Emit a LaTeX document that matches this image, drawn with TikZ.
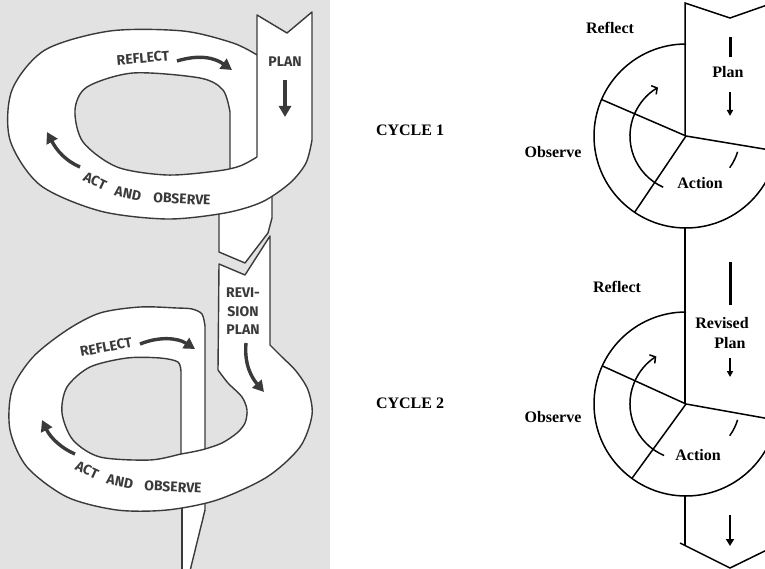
\documentclass[tikz,border=0pt]{standalone}
\usepackage{fontspec}
\setmainfont{Liberation Serif}
\newfontfamily\scanfont{Fira Sans}
\usetikzlibrary{arrows.meta}
\definecolor{scanbg}{RGB}{226,226,226}
\definecolor{ink}{RGB}{58,58,58}
\begin{document}
\begin{tikzpicture}[x=1pt,y=-1pt,
  band/.style={draw=ink, line width=1.4pt, line join=round},
  scanlbl/.style={font=\scanfont\bfseries\fontsize{14}{14}\selectfont, text=ink, inner sep=0pt},
  bigarrow/.style={draw=ink, line width=3.4pt, -{Triangle[length=11pt,width=12pt]}},
  lbl/.style={font=\bfseries\fontsize{16}{16}\selectfont, inner sep=0pt},
  cyc/.style={draw=black, line width=1.5pt},
]
\useasboundingbox (0,0) rectangle (765,569);
\clip (0,0) rectangle (765,569);
\fill[scanbg] (0,0) rectangle (330,569);

% ---------- left: ring 1 tail ----------
\fill[white] (219,195) -- (219,252) -- (245,263) -- (268,233) -- (272,218) -- (272,195) -- cycle;
\draw[band] (219,195) -- (219,252) -- (245,263) -- (268,233) -- (272,218) -- (272,195);

% ---------- left: ring 2 tail ----------
\fill[white] (182,490) -- (182,575) -- (189,575) -- (205,510) -- (205,490) -- cycle;
\draw[band] (182,490) -- (182,575);
\draw[band] (205,490) -- (205,510) -- (189,575);

% ---------- left: ring 1 ----------
\fill[white, even odd rule] (257,55) -- (257,15) -- (287,33) -- (312,12) -- (312,140)
  -- plot[smooth] coordinates {(312,140) (306,163) (290,183) (262,202) (225,213) (167,219) (100,211) (40,185) (10,140) (12,90) (45,50) (110,31) (183,31) (233,43) (257,55)} -- cycle
  (230,168) -- plot[smooth] coordinates {(230,168) (217,171) (167,175) (117,167) (83,142) (75,110) (87,87) (133,73) (200,78) (223,90) (230,112)} -- cycle;
\draw[band] (257,157) -- (257,15) -- (287,33) -- (312,12) -- (312,140)
  -- plot[smooth] coordinates {(312,140) (306,163) (290,183) (262,202) (225,213) (167,219) (100,211) (40,185) (10,140) (12,90) (45,50) (110,31) (183,31) (233,43) (257,55)};
\draw[band] plot[smooth] coordinates {(257,157) (240,166) (217,171) (167,175) (117,167) (83,142) (75,110) (87,87) (133,73) (200,78) (223,90) (230,112)} -- (230,168);

% ---------- left: ring 2 ----------
\fill[white, even odd rule] (205,449) -- (205,326)
  -- plot[smooth] coordinates {(205,326) (202,314) (192,309) (177,308) (140,307) (100,313) (67,330) (33,357) (12,390) (10,430) (27,467) (67,497) (117,510) (167,510) (217,500) (267,477) (300,447) (312,415) (308,390) (296,371) (282,357) (270,345)}
  -- (270,236) -- (245,275) -- (219,264) -- (218,370)
  -- plot[smooth] coordinates {(218,370) (228,383) (242,397) (247,410) (245,423) (237,433) (222,443) (205,449)} -- cycle
  (181,454) -- (181,372) -- plot[smooth] coordinates {(181,372) (178,362) (160,358) (127,358) (90,367) (67,387) (62,413) (73,440) (100,457) (150,460) (181,454)} -- cycle;
\draw[band] (205,449) -- (205,326)
  -- plot[smooth] coordinates {(205,326) (202,314) (192,309) (177,308) (140,307) (100,313) (67,330) (33,357) (12,390) (10,430) (27,467) (67,497) (117,510) (167,510) (217,500) (267,477) (300,447) (312,415) (308,390) (296,371) (282,357) (270,345)}
  -- (270,236) -- (245,275) -- (219,264) -- (218,370);
\draw[band] plot[smooth] coordinates {(218,370) (228,383) (242,397) (247,410) (245,423) (237,433) (222,443) (205,449) (192,452) (181,454) (150,460) (100,457) (73,440) (62,413) (67,387) (90,367) (127,358) (160,358) (178,362) (181,372)} -- (181,454);

% ---------- left: arrows ----------
\coordinate (a1s) at (177,61); \coordinate (a1e) at (232,70);
\coordinate (a2s) at (285,80); \coordinate (a2e) at (285,117);
\coordinate (a3s) at (80,167); \coordinate (a3e) at (47,132);
\coordinate (b1s) at (140,344); \coordinate (b1e) at (195,349);
\coordinate (b2s) at (246,343); \coordinate (b2e) at (264,392);
\coordinate (b3s) at (75,454); \coordinate (b3e) at (42,420);
\draw[bigarrow] (a1s) .. controls (200,54) and (215,58) .. (a1e);
\draw[bigarrow] (a2s) -- (a2e);
\draw[bigarrow] (a3s) .. controls (66,161) and (57,151) .. (a3e);
\draw[bigarrow] (b1s) .. controls (160,336) and (178,338) .. (b1e);
\draw[bigarrow] (b2s) .. controls (244,365) and (252,378) .. (b2e);
\draw[bigarrow] (b3s) .. controls (63,449) and (51,439) .. (b3e);

% ---------- left: labels ----------
\node[scanlbl, rotate=5] (r1reflect) at (143,58) {REFLECT};
\node[scanlbl] (r1plan) at (285,62) {PLAN};
\node[scanlbl, rotate=-25] (r1act) at (95,181) {ACT};
\node[scanlbl, rotate=-12] (r1and) at (128,194) {AND};
\node[scanlbl, rotate=-3] (r1obs) at (182,199) {OBSERVE};
\node[scanlbl, rotate=11] (r2reflect) at (106,347) {REFLECT};
\node[scanlbl] (r2revi) at (243,293) {REVI-};
\node[scanlbl] (r2sion) at (243,312) {SION};
\node[scanlbl] (r2plan) at (243,330) {PLAN};
\node[scanlbl, rotate=-25] (r2act) at (87,470) {ACT};
\node[scanlbl, rotate=-12] (r2and) at (120,482) {AND};
\node[scanlbl, rotate=-3] (r2obs) at (173,487) {OBSERVE};

% ---------- middle ----------
\node[lbl] (cyc1) at (410,130) {CYCLE 1};
\node[lbl] (cyc2) at (410,403) {CYCLE 2};

% ---------- right diagram ----------
\coordinate (c1) at (686,136);
\coordinate (c2) at (686,404);
\draw[cyc] (770,4) -- (730,18) -- (685,3) -- (685,136);
\draw[cyc] (685,228) -- (685,404);
\draw[cyc] (685,496) -- (685,545);
\draw[cyc] (680,543) -- (730,568) -- (775,546);
% cycle 1
\draw[cyc] (686,44) arc[start angle=270, end angle=5, radius=92];
\draw[cyc] (c1) -- (601.5,99.5);
\draw[cyc] (c1) -- (634.6,212.3);
\draw[cyc] (c1) -- (770,150);
\draw[cyc, -{Straight Barb[length=4pt,width=10pt]}] (663.2,187.2) arc[start angle=114, end angle=240, radius=56];
\draw[cyc] (737.6,151.8) arc[start angle=17, end angle=36, radius=54];
% cycle 2
\draw[cyc] (686,312) arc[start angle=270, end angle=5, radius=92];
\draw[cyc] (c2) -- (602.3,365.9);
\draw[cyc] (c2) -- (631.9,478.4);
\draw[cyc] (c2) -- (770,419);
\draw[cyc, -{Straight Barb[length=4pt,width=10pt]}] (664.1,455.5) arc[start angle=113, end angle=238, radius=56];
\draw[cyc] (737.6,419.8) arc[start angle=17, end angle=36, radius=54];
% band marks
\draw[line width=3pt] (730,37) -- (730,57);
\draw[line width=3pt] (730,262) -- (730,305);
\draw[line width=1.5pt, -{Triangle[length=6pt,width=6pt]}] (730,92) -- (730,116);
\draw[line width=1.5pt, -{Triangle[length=6pt,width=6pt]}] (730,358) -- (730,377);
\draw[line width=2.5pt, -{Triangle[length=7pt,width=8pt]}] (730,515) -- (730,546);
% labels
\node[lbl] (refl1) at (610,28) {Reflect};
\node[lbl] (plan1) at (728,72) {Plan};
\node[lbl] (obs1) at (553,152) {Observe};
\node[lbl] (act1) at (700,183) {Action};
\node[lbl] (refl2) at (617,287) {Reflect};
\node[lbl] (rev2) at (722,323) {Revised};
\node[lbl] (plan2) at (730,343) {Plan};
\node[lbl] (obs2) at (553,417) {Observe};
\node[lbl] (act2) at (698,455) {Action};
\end{tikzpicture}
\end{document}
